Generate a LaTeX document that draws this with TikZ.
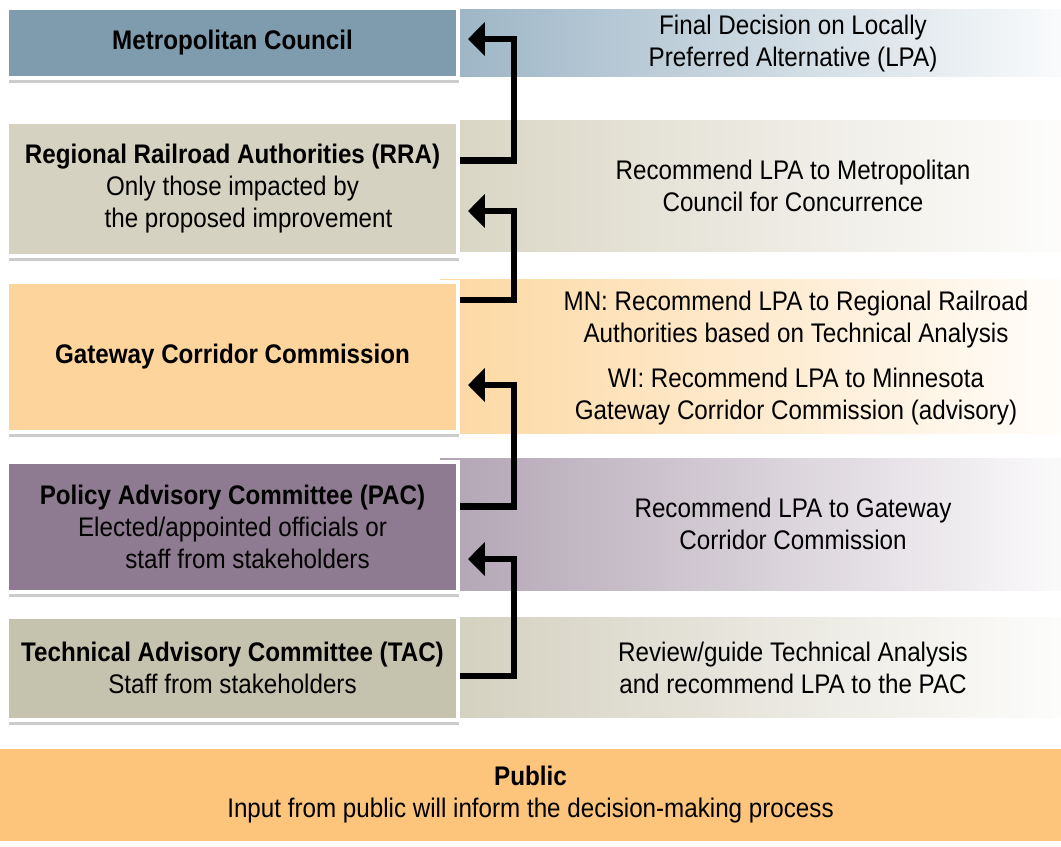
\documentclass[tikz,border=0pt]{standalone}
\usepackage{fontspec}
\setmainfont[FakeStretch=0.9]{Liberation Sans}
\usetikzlibrary{arrows.meta,shadows}

\definecolor{metro}{HTML}{7F9CAF}
\definecolor{metroband}{HTML}{9BB4C5}
\definecolor{rra}{HTML}{D6D2C1}
\definecolor{rraband}{HTML}{D9D5C4}
\definecolor{gcc}{HTML}{FDD59C}
\definecolor{gccband}{HTML}{FDD8A2}
\definecolor{pac}{HTML}{8F7B91}
\definecolor{pacband}{HTML}{B2A4B4}
\definecolor{tac}{HTML}{C5C3AD}
\definecolor{tacband}{HTML}{D3D0BF}
\definecolor{public}{HTML}{FDC47C}

\begin{document}
\begin{tikzpicture}[x=0.02cm,y=-0.02cm,
  font=\fontsize{15.3}{18.2}\selectfont,
  organe/.style={draw=white,line width=0.08cm,minimum width=9.02cm,inner sep=0pt,align=center,
    drop shadow={shadow xshift=0.03cm,shadow yshift=-0.1cm,opacity=0.4}},
  role/.style={align=center,inner sep=0pt},
  flux/.style={line width=0.13cm,-{Triangle[length=0.34cm,width=0.66cm]},shorten >=0.16cm}]
\useasboundingbox (0,0) rectangle (1061,846); % taille de l'image

% bandes degradees a droite
\shade [left color=metroband, right color=metroband!6!white] (440,9) rectangle (1061,76);
\shade [left color=rraband, right color=rraband!6!white] (440,120) rectangle (1061,251);
\shade [left color=gccband, right color=gccband!6!white] (440,279) rectangle (1061,433);
\shade [left color=pacband, right color=pacband!6!white] (440,458) rectangle (1061,590);
\shade [left color=tacband, right color=tacband!6!white] (440,617) rectangle (1061,717);

% organes
\node [organe, fill=metro, minimum height=1.42cm] (mc) at (232.5,43) {\textbf{Metropolitan Council}};
\node [organe, fill=rra, minimum height=2.67cm] (rra) at (232.5,189) {\textbf{Regional Railroad Authorities (RRA)}\\Only those impacted by\\\hspace*{0.64cm}the proposed improvement};
\node [organe, fill=gcc, minimum height=3.02cm] (gcc) at (232.5,357) {\textbf{Gateway Corridor Commission}};
\node [organe, fill=pac, minimum height=2.59cm] (pac) at (232.5,527) {\textbf{Policy Advisory Committee (PAC)}\\Elected/appointed officials or\\\hspace*{0.6cm}staff from stakeholders};
\node [organe, fill=tac, minimum height=2.06cm] (tac) at (232.5,668) {\textbf{Technical Advisory Committee (TAC)}\\Staff from stakeholders};

% roles
\node [role] (mcrole) at (793,44) {Final Decision on Locally\\Preferred Alternative (LPA)};
\node [role] (rrarole) at (793,186) {Recommend LPA to Metropolitan\\Council for Concurrence};
\node [role] (gccrole) at (796,358) {MN: Recommend LPA to Regional Railroad\\Authorities based on Technical Analysis\\[7pt]WI: Recommend LPA to Minnesota\\Gateway Corridor Commission (advisory)};
\node [role] (pacrole) at (793,524) {Recommend LPA to Gateway\\Corridor Commission};
\node [role] (tacrole) at (793,668) {Review/guide Technical Analysis\\and recommend LPA to the PAC};

\node [role, fill=public, minimum width=21.22cm, minimum height=1.84cm] (pub) at (530.5,795)
  {\textbf{Public}\\Input from public will inform the decision-making process};

% fleches
\draw [flux] ([yshift=0.57cm]rra.east) -- ++(1.08cm,0) |- ([yshift=0.08cm]mc.east);
\draw [flux] ([yshift=1.14cm]gcc.east) -- ++(1.08cm,0) |- ([yshift=-0.44cm]rra.east);
\draw [flux] ([yshift=0.41cm]pac.east) -- ++(1.08cm,0) |- ([yshift=-0.56cm]gcc.east);
\draw [flux] ([yshift=-0.16cm]tac.east) -- ++(1.08cm,0) |- ([yshift=-0.64cm]pac.east);
\end{tikzpicture}
\end{document}
